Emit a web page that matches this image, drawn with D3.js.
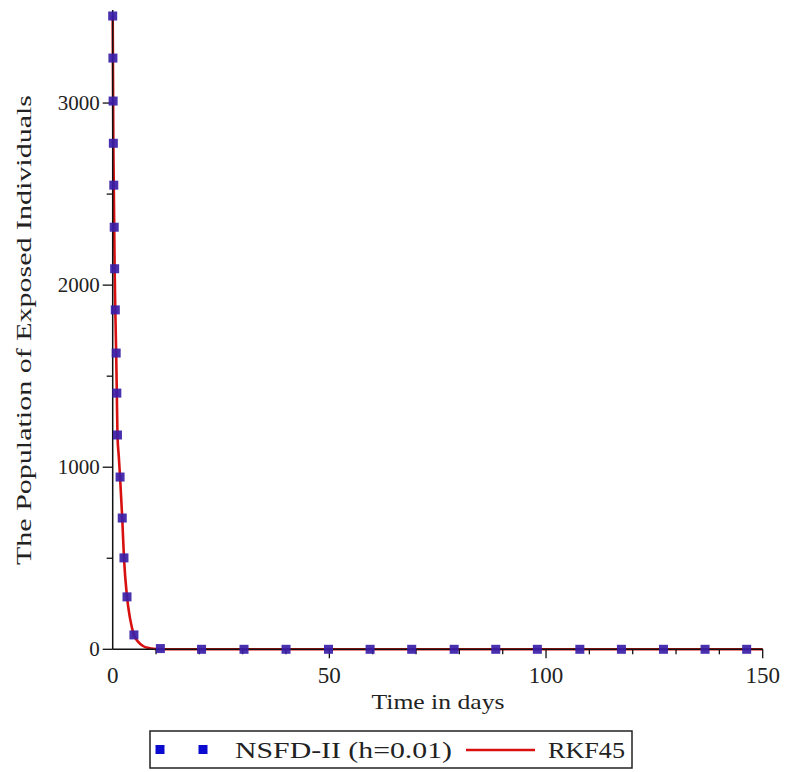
<!DOCTYPE html>
<html>
<head>
<meta charset="utf-8">
<script src="https://cdn.jsdelivr.net/npm/d3@7"></script>
<style>
  html, body { margin: 0; padding: 0; background: #fff; }
  text { font-family: "Liberation Serif", "Times New Roman", Times, serif; fill: #222; }
</style>
</head>
<body>
<svg id="chart" width="787" height="772"></svg>
<script>
// ---- data ----
const xTickLabels = [0, 50, 100, 150];
const yTickLabels = [0, 1000, 2000, 3000];
// NSFD-II (h=0.01) markers: time (days) and exposed population
const nsfdTime = [0, 0.05, 0.1, 0.15, 0.25, 0.35, 0.45, 0.6, 0.8, 0.95, 1.1, 1.7, 2.2, 2.6, 3.3, 4.9,
                  11.0, 20.5, 30.3, 40.0, 49.8, 59.4, 69.0, 78.8, 88.4, 98.0, 107.8, 117.4, 127.1, 136.7, 146.3];
const nsfdValue = [3478, 3247, 3011, 2779, 2549, 2318, 2090, 1864, 1627, 1407, 1177, 946, 721, 502, 288, 79,
                   4, 0, 0, 0, 0, 0, 0, 0, 0, 0, 0, 0, 0, 0, 0];
// RKF45 solution
const rkfTime = [0, 0.05, 0.1, 0.15, 0.25, 0.35, 0.45, 0.6, 0.8, 0.95, 1.1, 1.4, 1.7, 2.2, 2.6, 3.3, 4.0, 4.9, 6.0, 7.0, 8.0, 9.0, 10, 12, 20, 50, 100, 150];
const rkfValue = [3480, 3247, 3011, 2779, 2549, 2318, 2090, 1864, 1627, 1407, 1177, 1060, 946, 721, 502, 288, 170, 79, 38, 18, 8, 4, 2, 0.5, 0, 0, 0, 0];
const seriesNames = ["NSFD-II (h=0.01)", "RKF45"];
const xTitle = "Time in days";
const yTitle = "The Population of Exposed Individuals";

// ---- drawing ----
const svg = d3.select("#chart");
const x = d3.scaleLinear().domain([0, 150]).range([112.7, 762.7]);
const y = d3.scaleLinear().domain([0, 3500]).range([649.3, 12]);

const g = svg.append("g");

// red RKF45 line
const rkf = rkfTime.map((t, i) => [t, rkfValue[i]]);
g.append("path")
  .datum(rkf)
  .attr("fill", "none")
  .attr("stroke", "#d81010")
  .attr("stroke-width", 2.6)
  .attr("d", d3.line().x(d => x(d[0])).y(d => y(d[1])).curve(d3.curveMonotoneX));

// axes
const xAxis = g.append("g").attr("transform", `translate(0,${y(0)})`);
xAxis.append("line").attr("x1", x(0)).attr("x2", x(150)).attr("stroke", "#111").attr("stroke-width", 1.5);
xAxis.selectAll(".minor").data(d3.range(10, 151, 10).filter(v => v % 50 !== 0))
  .join("line").attr("x1", d => x(d)).attr("x2", d => x(d)).attr("y1", 0).attr("y2", 5)
  .attr("stroke", "#111").attr("stroke-width", 1.3);
xAxis.selectAll(".major").data(xTickLabels.filter(v => v > 0))
  .join("line").attr("x1", d => x(d)).attr("x2", d => x(d)).attr("y1", 0).attr("y2", 9)
  .attr("stroke", "#111").attr("stroke-width", 1.3);
xAxis.selectAll("text").data(xTickLabels).join("text")
  .attr("x", d => x(d)).attr("y", 34).attr("text-anchor", "middle")
  .attr("font-size", 23).attr("fill", "#333").text(d => d);

const yAxis = g.append("g").attr("transform", `translate(${x(0)},0)`);
yAxis.append("line").attr("y1", y(0)).attr("y2", 10).attr("stroke", "#111").attr("stroke-width", 1.5);
yAxis.selectAll(".minor").data([500, 1500, 2500])
  .join("line").attr("y1", d => y(d)).attr("y2", d => y(d)).attr("x1", 0).attr("x2", -6)
  .attr("stroke", "#111").attr("stroke-width", 1.3);
yAxis.selectAll(".major").data(yTickLabels)
  .join("line").attr("y1", d => y(d)).attr("y2", d => y(d)).attr("x1", 0).attr("x2", -10)
  .attr("stroke", "#111").attr("stroke-width", 1.3);
yAxis.selectAll("text").data(yTickLabels).join("text")
  .attr("x", -13).attr("y", d => y(d) + 7).attr("text-anchor", "end")
  .attr("font-size", 21).attr("fill", "#333").text(d => d);

// markers
const sq = 9;
g.selectAll(".mk").data(nsfdTime.map((t, i) => [t, nsfdValue[i]])).join("rect")
  .attr("x", d => x(d[0]) - sq / 2).attr("y", d => y(d[1]) - sq / 2)
  .attr("width", sq).attr("height", sq)
  .attr("fill", "#3a1ea8").attr("fill-opacity", 0.92);

// titles
svg.append("text").attr("x", 438).attr("y", 709).attr("text-anchor", "middle")
  .attr("font-size", 21).attr("textLength", 133).attr("lengthAdjust", "spacingAndGlyphs").text(xTitle);
svg.append("text").attr("transform", "translate(31,330) rotate(-90)").attr("text-anchor", "middle")
  .attr("font-size", 22).attr("textLength", 470).attr("lengthAdjust", "spacingAndGlyphs").text(yTitle);

// legend
const lg = svg.append("g");
lg.append("rect").attr("x", 150).attr("y", 731).attr("width", 482).attr("height", 37)
  .attr("fill", "#fff").attr("stroke", "#222").attr("stroke-width", 1.5);
[160, 203].forEach(cx => lg.append("rect").attr("x", cx - 4.5).attr("y", 745).attr("width", 9).attr("height", 9).attr("fill", "#0a0ad0"));
lg.append("text").attr("x", 235).attr("y", 758).attr("font-size", 24)
  .attr("textLength", 217).attr("lengthAdjust", "spacingAndGlyphs").text(seriesNames[0]);
lg.append("line").attr("x1", 466).attr("x2", 535).attr("y1", 750).attr("y2", 750)
  .attr("stroke", "#d81010").attr("stroke-width", 2.6);
lg.append("text").attr("x", 548).attr("y", 758).attr("font-size", 24)
  .attr("textLength", 77).attr("lengthAdjust", "spacingAndGlyphs").text(seriesNames[1]);
</script>
</body>
</html>
